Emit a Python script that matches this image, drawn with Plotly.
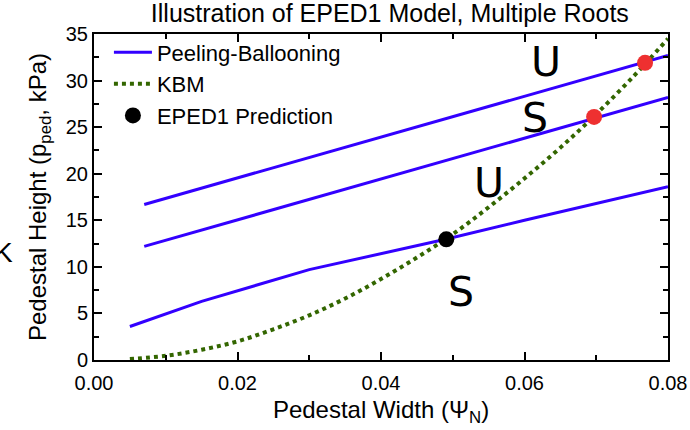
import plotly.graph_objects as go

# Peeling-ballooning stability boundaries (three cases)
pb1_x = [0.007, 0.08]
pb1_y = [16.7, 32.7]
pb2_x = [0.007, 0.08]
pb2_y = [12.2, 28.2]
pb3_x = [0.005, 0.015, 0.030, 0.040, 0.049, 0.060, 0.070, 0.080]
pb3_y = [3.6, 6.3, 9.7, 11.4, 12.96, 15.0, 16.8, 18.6]

# KBM constraint
kbm_x = [0.005, 0.010, 0.015, 0.020, 0.025, 0.030, 0.035, 0.040,
         0.045, 0.050, 0.055, 0.060, 0.065, 0.070, 0.075, 0.080]
kbm_y = [0.1, 0.45, 1.1, 2.0, 3.3, 4.8, 6.6, 8.7,
         11.0, 13.5, 16.4, 19.5, 22.8, 26.4, 30.3, 34.5]

# Roots
pred_x = [0.0491]
pred_y = [12.96]
unstable_x = [0.0697, 0.0768]
unstable_y = [26.1, 31.9]

# Stability labels
lab_text = ["U", "S", "U", "S"]
lab_x = [0.0630, 0.0614, 0.0550, 0.0512]
lab_y = [32.0, 26.0, 19.0, 7.3]

BLUE = "#3300ff"
GREEN = "#336600"
FONT = "Liberation Sans, Arial, sans-serif"

fig = go.Figure()
fig.add_trace(go.Scatter(x=pb1_x, y=pb1_y, mode="lines", name="Peeling-Ballooning",
                         line=dict(color=BLUE, width=3), legendgroup="a"))
fig.add_trace(go.Scatter(x=pb2_x, y=pb2_y, mode="lines", showlegend=False,
                         line=dict(color=BLUE, width=3)))
fig.add_trace(go.Scatter(x=pb3_x, y=pb3_y, mode="lines", showlegend=False,
                         line=dict(color=BLUE, width=3)))
fig.add_trace(go.Scatter(x=kbm_x, y=kbm_y, mode="lines", name="KBM",
                         line=dict(color=GREEN, width=4, dash="4px,4px", shape="spline"),
                         legendgroup="b"))
fig.add_trace(go.Scatter(x=pred_x, y=pred_y, mode="markers", name="EPED1 Prediction",
                         marker=dict(color="black", size=16), legendgroup="c"))
fig.add_trace(go.Scatter(x=unstable_x, y=unstable_y, mode="markers", showlegend=False,
                         marker=dict(color="#ee3030", size=16)))

for t, x, y in zip(lab_text, lab_x, lab_y):
    fig.add_annotation(x=x, y=y, text=t, showarrow=False,
                       font=dict(family="DejaVu Sans, sans-serif", size=41, color="black"))

# cropped glyph at left edge of the original image
fig.add_annotation(x=-0.1585, y=0.331, xref="paper", yref="paper", text="K",
                   xanchor="center", yanchor="middle",
                   showarrow=False, font=dict(family=FONT, size=28, color="black"))

axis_common = dict(
    showline=True, linecolor="black", linewidth=2, mirror="ticks",
    ticks="inside", ticklen=8, tickwidth=1.5, tickcolor="black",
    showgrid=False, zeroline=False,
    tickfont=dict(family=FONT, size=20, color="black"),
)

fig.update_xaxes(range=[0, 0.08], dtick=0.02, tickformat=".2f", ticklabelstandoff=4,
                 minor=dict(ticks="inside", dtick=0.01, ticklen=5, tickcolor="black", tickwidth=1.5),
                 title=dict(text="Pedestal Width (Ψ<sub>N</sub>)",
                            font=dict(family=FONT, size=24, color="black"), standoff=8),
                 **axis_common)
fig.update_yaxes(range=[0, 35], dtick=5,
                 minor=dict(ticks="inside", dtick=2.5, ticklen=5, tickcolor="black", tickwidth=1.5),
                 title=dict(text="Pedestal Height (p<sub>ped</sub>, kPa)",
                            font=dict(family=FONT, size=24, color="black"), standoff=12),
                 **axis_common)

fig.update_layout(
    width=690, height=430,
    margin=dict(l=94, r=22, t=34, b=70, autoexpand=False),
    paper_bgcolor="white", plot_bgcolor="white",
    title=dict(text="Illustration of EPED1 Model, Multiple Roots",
               x=0.565, xanchor="center", xref="container",
               y=0.97, yanchor="middle", yref="container",
               font=dict(family=FONT, size=25, color="black")),
    legend=dict(x=0.026, y=1.008, xanchor="left", yanchor="top",
                bgcolor="rgba(0,0,0,0)", borderwidth=0,
                font=dict(family=FONT, size=22, color="black"),
                traceorder="grouped", tracegroupgap=0, itemwidth=38),
    font=dict(family=FONT),
)

fig.write_html("out.html", config={"displayModeBar": False},
               post_script="document.body.style.margin='0';")
